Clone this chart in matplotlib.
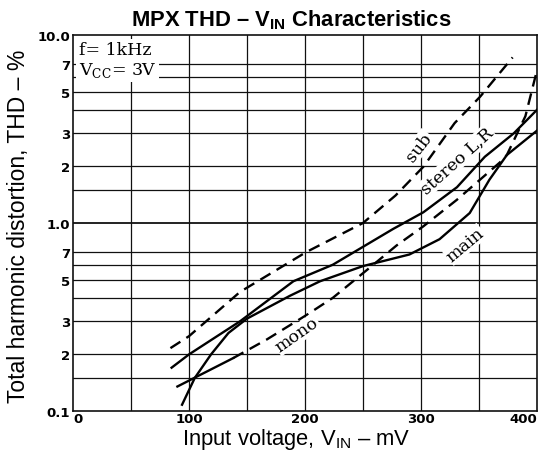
import matplotlib
matplotlib.use("Agg")
import matplotlib.pyplot as plt
import numpy as np

# ---------------- data ----------------
sub_x = [84, 100, 144, 201, 250, 278, 302, 329, 351, 379]
sub_y = [0.216, 0.25, 0.43, 0.70, 1.0, 1.40, 1.99, 3.4, 4.7, 7.6]

stereo_x = [85, 100, 144, 190, 224, 276, 302, 331, 355, 380, 400]
stereo_y = [0.17, 0.20, 0.30, 0.49, 0.60, 0.93, 1.14, 1.55, 2.25, 3.0, 4.0]

main_x = [94, 105, 119, 134, 150, 187, 213, 250, 273, 290, 316, 342, 359, 374, 400]
main_y = [0.108, 0.15, 0.2, 0.26, 0.31, 0.41, 0.49, 0.59, 0.64, 0.68, 0.82, 1.13, 1.7, 2.3, 3.1]

mono_x = [90, 138, 167, 202, 224, 253, 279, 302, 331, 368, 374, 390, 400]
mono_y = [0.135, 0.191, 0.24, 0.326, 0.40, 0.56, 0.76, 0.96, 1.33, 2.1, 2.3, 3.7, 6.5]

ytick_vals = [0.1, 0.2, 0.3, 0.5, 0.7, 1.0, 2, 3, 5, 7, 10]
ytick_labels = ["0.1", "2", "3", "5", "7", "1.0", "2", "3", "5", "7", "10.0"]
xtick_vals = [0, 100, 200, 300, 400]
xtick_labels = ["0", "100", "200", "300", "400"]
hgrid_vals = [0.15, 0.2, 0.3, 0.4, 0.5, 0.6, 0.7, 1.0, 1.5, 2, 3, 4, 5, 6, 7]
vgrid_vals = [50, 100, 150, 200, 250, 300, 350]

# ---------------- style ----------------
plt.rcParams["mathtext.fontset"] = "custom"
plt.rcParams["mathtext.rm"] = "DejaVu Serif"
plt.rcParams["mathtext.sf"] = "Liberation Sans"
plt.rcParams["mathtext.bf"] = "Liberation Sans:bold"

W, H = 543, 456
fig = plt.figure(figsize=(W / 100, H / 100), dpi=100)
ax = fig.add_axes([73 / W, 1 - 412 / H, 464 / W, 376 / H])
ax.set_yscale("log")
ax.set_xlim(0, 400)
ax.set_ylim(0.1, 10)

gc = "#111111"
for v in hgrid_vals:
    ax.axhline(v, color=gc, lw=1.3 if v == 1.0 else 0.9, zorder=1)
for v in vgrid_vals:
    ax.axvline(v, color=gc, lw=0.9, zorder=1)
for s in ax.spines.values():
    s.set_linewidth(1.2)
    s.set_color(gc)

ax.minorticks_off()
ax.set_yticks(ytick_vals)
ax.set_yticklabels(ytick_labels)
ax.set_xticks(xtick_vals)
ax.set_xticklabels(xtick_labels)
ax.tick_params(length=0, pad=2)
for lab in ax.get_yticklabels() + ax.get_xticklabels():
    lab.set_fontfamily("DejaVu Sans")
    lab.set_fontweight("bold")
    lab.set_fontsize(9.5)
ax.tick_params(axis="x", pad=1)
xl = ax.get_xticklabels()
xl[0].set_horizontalalignment("left")
xl[-1].set_horizontalalignment("right")

lw = 1.7
ax.plot(sub_x, sub_y, color="black", lw=lw, dashes=(5, 3), zorder=3)
ax.plot(stereo_x, stereo_y, color="black", lw=lw, zorder=3)
ax.plot(main_x, main_y, color="black", lw=lw, zorder=3)
ax.plot(mono_x[:2], mono_y[:2], color="black", lw=lw, zorder=3)
ax.plot(mono_x[1:], mono_y[1:], color="black", lw=lw, dashes=(5, 3), zorder=3)

serif = "DejaVu Serif"
lbl_kw = dict(family=serif, fontsize=12.5, ha="center", va="center",
              rotation_mode="anchor", zorder=4,
              bbox=dict(facecolor="white", edgecolor="none", pad=0.5))
ax.text(298, 2.55, "sub", rotation=52, **lbl_kw)
ax.text(331, 2.15, "stereo L,R", rotation=42, **lbl_kw)
ax.text(338, 0.77, "main", rotation=40, **lbl_kw)
ax.text(193, 0.255, "mono", rotation=35, **lbl_kw)

ax.text(0.012, 0.985, "f= 1kHz\nV$_{\\mathrm{CC}}$= 3V", transform=ax.transAxes,
        family=serif, fontsize=12.5, ha="left", va="top", linespacing=1.15, zorder=5,
        bbox=dict(facecolor="white", edgecolor="none", pad=2))

fig.text(291 / W, 1 - 20 / H, "MPX THD – V$_{\\mathbf{IN}}$ Characteristics",
         family="Liberation Sans", fontweight="bold", fontsize=15.8, ha="center", va="center")
fig.text(296 / W, 1 - 440 / H, "Input voltage, V$_{\\mathsf{IN}}$ – mV",
         family="Liberation Sans", fontsize=15.8, ha="center", va="center")
fig.text(19 / W, 1 - 226 / H, "Total harmonic distortion, THD – %",
         family="Liberation Sans", fontsize=16.5, ha="center", va="center", rotation=90)

fig.savefig("out.png", dpi=100)
